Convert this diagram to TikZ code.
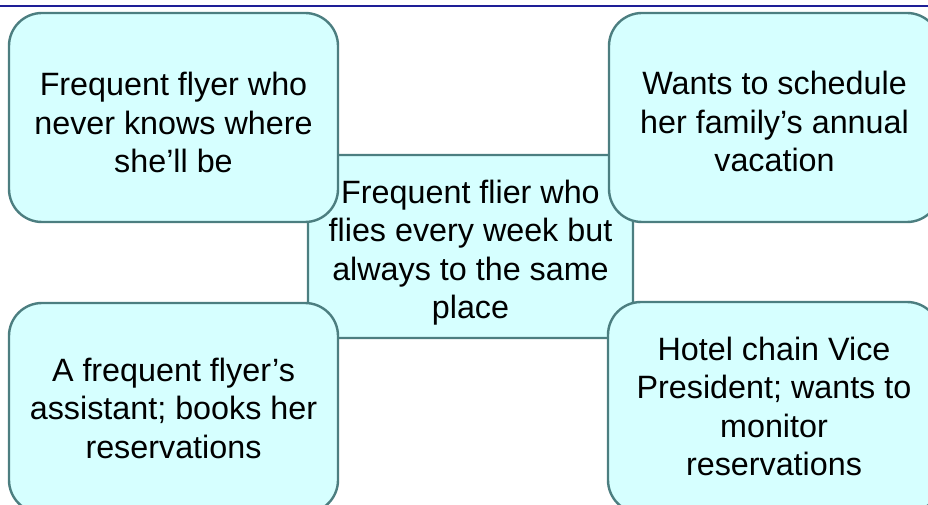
\documentclass[tikz,border=0pt]{standalone}
\usepackage{fontspec}
\setmainfont{Liberation Sans}
\definecolor{boxfill}{RGB}{214,255,255}
\definecolor{boxline}{RGB}{76,126,128}
\definecolor{rulecol}{RGB}{30,30,150}
\begin{document}
\begin{tikzpicture}[x=1pt,y=-1pt,
  card/.style={draw=boxline,fill=boxfill,line width=2.4pt,rounded corners=33pt,inner sep=0pt},
  hubcard/.style={card,rounded corners=6pt},
  cardtext/.style={align=center,inner sep=0pt,font=\fontsize{32.3}{38.5}\selectfont}]
\useasboundingbox (0,0) rectangle (928,505);
\clip (0,0) rectangle (928,505);
% top rule
\draw[rulecol,line width=2pt] (0,6) -- (928,6);
% central card
\node[hubcard,minimum width=325pt,minimum height=183pt] (hub) at (470.5,246.5) {};
\node[cardtext] (hubtext) at ([yshift=-6pt]hub.center)
  {Frequent flier who\\flies every week but\\always to the same\\place};
% corner cards
\node[card,minimum width=329pt,minimum height=209pt] (tl) at (173.5,117.5) {};
\node[cardtext] (tltext) at ([yshift=-5pt]tl.center)
  {Frequent flyer who\\never knows where\\she’ll be};
\node[card,minimum width=331pt,minimum height=209pt] (tr) at (774.5,117.5) {};
\node[cardtext] (trtext) at ([yshift=-4pt]tr.center)
  {Wants to schedule\\her family’s annual\\vacation};
\node[card,minimum width=329pt,minimum height=210pt] (bl) at (173.5,408) {};
\node[cardtext] (bltext) at (bl.center)
  {A frequent flyer’s\\assistant; books her\\reservations};
\node[card,minimum width=332pt,minimum height=211pt] (br) at (774,407.5) {};
\node[cardtext] (brtext) at ([yshift=1pt]br.center)
  {Hotel chain Vice\\President; wants to\\monitor\\reservations};
\end{tikzpicture}
\end{document}
